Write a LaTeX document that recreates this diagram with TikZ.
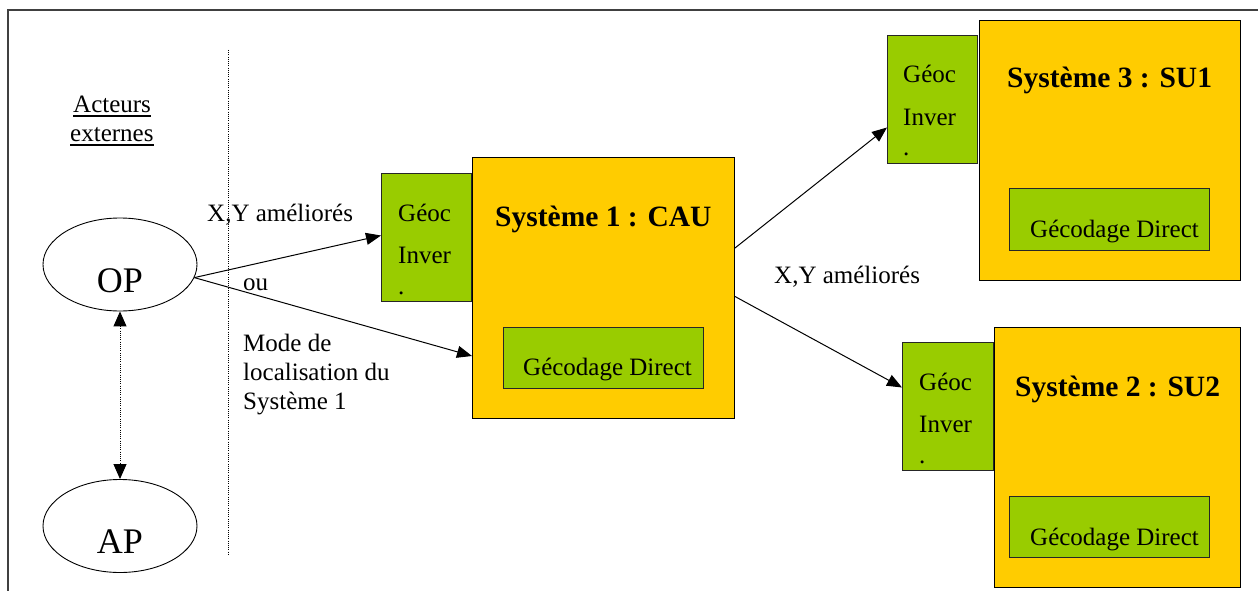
\documentclass[tikz,border=0pt]{standalone}
\usepackage{fontspec}
\setmainfont{Liberation Serif}
\usetikzlibrary{arrows.meta,shapes.geometric}
\definecolor{sysyellow}{HTML}{FFCC00}
\definecolor{modgreen}{HTML}{99CC00}
\definecolor{framegray}{HTML}{404040}

\tikzset{
  sysbox/.style={draw=black, line width=1pt, fill=sysyellow, anchor=north west, inner sep=0pt},
  modbox/.style={draw=black!85, line width=1pt, fill=modgreen, anchor=north west, inner sep=0pt},
  actor/.style={draw=black, line width=0.9pt, ellipse, minimum width=154pt, minimum height=93pt, inner sep=0pt},
  txt/.style={anchor=base west, inner sep=0pt, font=\fontsize{25}{29}\selectfont},
  ctxt/.style={anchor=base, inner sep=0pt, font=\fontsize{25}{29}\selectfont},
  bigtxt/.style={anchor=base, inner sep=0pt, font=\fontsize{36}{40}\selectfont},
  titletxt/.style={anchor=base west, inner sep=0pt, font=\fontsize{29.5}{34}\selectfont\bfseries},
  flow/.style={line width=1pt, -{Triangle[length=15pt,width=12pt]}},
  dotline/.style={line width=1pt, dash pattern=on 1pt off 1.2pt},
}

\begin{document}
\begin{tikzpicture}[x=1pt, y=-1pt]
\useasboundingbox (0,0) rectangle (1258,591);

% page frame (top and left edges)
\draw[framegray, line width=1.6pt] (1258,10) -- (8,10) -- (8,591);

% separator between external actors and systems
\coordinate (septop) at (228,50);
\coordinate (sepbot) at (228,555);
\draw[dotline] (septop) -- (sepbot);

% external actors
\node[txt] (act1) at (73,113) {Acteurs};
\node[txt] (act2) at (70,142) {externes};
\draw[line width=1.1pt] ([yshift=-3pt]act1.base west) -- ([yshift=-3pt]act1.base east);
\draw[line width=1.1pt] ([yshift=-3pt]act2.base west) -- ([yshift=-3pt]act2.base east);

\node[actor] (op) at (120,264.5) {};
\node[bigtxt] (optxt) at (120,292) {OP};
\node[actor] (ap) at (120,526) {};
\node[bigtxt] (aptxt) at (120,553) {AP};

\draw[dotline, {Triangle[length=15pt,width=13pt]}-{Triangle[length=15pt,width=13pt]}] (op.south) -- (ap.north);

% Système 1 : CAU
\node[sysbox, minimum width=262pt, minimum height=261pt] (cau) at (472,157) {};
\node[modbox, minimum width=90pt, minimum height=128pt] (geocA) at (381,173) {};
\node[modbox, minimum width=200pt, minimum height=61pt] (gdA) at (503,327) {};
\node[titletxt] (cautitle) at (495,226) {Système 1 : CAU};
\node[txt] (geocA1) at (398,221) {Géoc};
\node[txt] (geocA2) at (398,263) {Inver};
\node[txt] (geocA3) at (398,294) {.};
\node[txt] (gdAtxt) at (523,375) {Gécodage Direct};

% Système 3 : SU1
\node[sysbox, minimum width=261pt, minimum height=260pt] (su1) at (979,20) {};
\node[modbox, minimum width=90pt, minimum height=128pt] (geocB) at (887,35) {};
\node[modbox, minimum width=200pt, minimum height=62pt] (gdB) at (1009,188) {};
\node[titletxt] (su1title) at (1007,88) {Système 3 : SU1};
\node[txt] (geocB1) at (903,83) {Géoc};
\node[txt] (geocB2) at (903,125) {Inver};
\node[txt] (geocB3) at (903,156) {.};
\node[txt] (gdBtxt) at (1030,237) {Gécodage Direct};

% Système 2 : SU2
\node[sysbox, minimum width=246pt, minimum height=260pt] (su2) at (994,327) {};
\node[modbox, minimum width=91pt, minimum height=128pt] (geocC) at (902,342) {};
\node[modbox, minimum width=200pt, minimum height=61pt] (gdC) at (1009,496) {};
\node[titletxt] (su2title) at (1015,396) {Système 2 : SU2};
\node[txt] (geocC1) at (919,390) {Géoc};
\node[txt] (geocC2) at (919,432) {Inver};
\node[txt] (geocC3) at (919,463) {.};
\node[txt] (gdCtxt) at (1030,545) {Gécodage Direct};

% flows
\draw[flow] (op.-10) -- ([yshift=2pt]geocA.west);
\draw[flow] (op.-10) -- ([yshift=-68pt]cau.west);
\draw[flow] ([yshift=40pt]cau.east) -- ([yshift=-28pt]geocB.west);
\draw[flow] ([yshift=-8.5pt]cau.east) -- ([yshift=19pt]geocC.west);

% flow labels
\node[txt] (lblxy1) at (207,221) {X,Y améliorés};
\node[txt] (lblou) at (243,290) {ou};
\node[txt] (lblmode1) at (243,351) {Mode de};
\node[txt] (lblmode2) at (243,380) {localisation du};
\node[txt] (lblmode3) at (243,409) {Système 1};
\node[txt] (lblxy2) at (774,283) {X,Y améliorés};
\end{tikzpicture}
\end{document}
